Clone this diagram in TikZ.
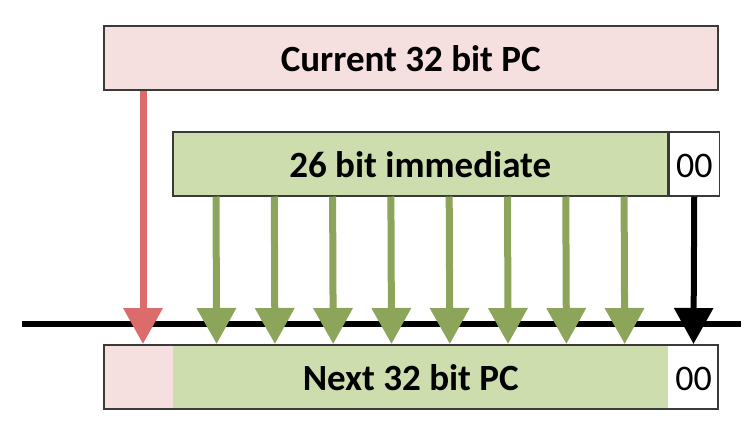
\documentclass[tikz,border=0pt]{standalone}
\usepackage{fontspec}
\setmainfont{Carlito}
\usetikzlibrary{arrows.meta,positioning}

\definecolor{pcpink}{HTML}{F5DFDF}
\definecolor{immgreen}{HTML}{CDDDAD}
\definecolor{arrowgreen}{HTML}{8CA55B}
\definecolor{arrowred}{HTML}{DC6B6B}
\definecolor{edge}{HTML}{3A3A3A}

\begin{document}
\begin{tikzpicture}[
    x = 1pt, y = -1pt,
    node distance = 0pt,
    field/.style = {rectangle, inner sep=0pt, minimum height=64pt, line width=1.5pt,
                    font=\fontsize{37}{40}\selectfont\bfseries, text height=28pt, text depth=0pt},
    zero/.style = {rectangle, inner sep=0pt, minimum width=50pt, minimum height=64pt, line width=1.5pt,
                   fill=white, font=\fontsize{36}{40}\selectfont, text height=28pt, text depth=0pt},
    part/.style = {line width=0.6pt},
    bus/.style = {line width=6pt, black},
    bitarrow/.style = {line width=7pt, -{Triangle[width=38pt, length=36pt]}}
]
\useasboundingbox (0,0) rectangle (753,429);

% Current PC
\node[field, draw=edge, fill=pcpink, minimum width=614pt, anchor=north west] (cur) at (103,25) {Current 32 bit PC};

% Immediate field
\node[field, draw=edge, fill=immgreen, minimum width=495pt, anchor=north west] (imm) at (172,131) {26 bit immediate};
\node[zero, draw=edge, right=of imm] (immz) {00};

% Next PC
\node[field, part, draw=pcpink, fill=pcpink, minimum width=69pt, anchor=north west] (nxtp) at (103,344) {};
\node[field, part, draw=immgreen, fill=immgreen, minimum width=495pt, right=of nxtp] (nxtg) {};
\node[zero, part, draw=white, right=of nxtg] (nxtz) {00};
\node[field, draw=edge, minimum width=614pt, anchor=north west] (nxt) at (103,344) {Next 32 bit PC};

% Bus line
\coordinate (busl) at (22,324);
\coordinate (busr) at (741,324);
\draw[bus] (busl) -- (busr);

% Arrows
\draw[bitarrow, arrowred] ([xshift=40pt]cur.south west) -- ([xshift=40pt]nxt.north west);
\foreach \i in {0,...,7}
  \draw[bitarrow, arrowgreen] ([xshift={44pt+58.3pt*\i}]imm.south west) -- ([xshift={44pt+58.3pt*\i}]nxtg.north west);
\draw[bitarrow, black, line width=6pt] (immz.south) -- (nxtz.north);

\end{tikzpicture}
\end{document}
